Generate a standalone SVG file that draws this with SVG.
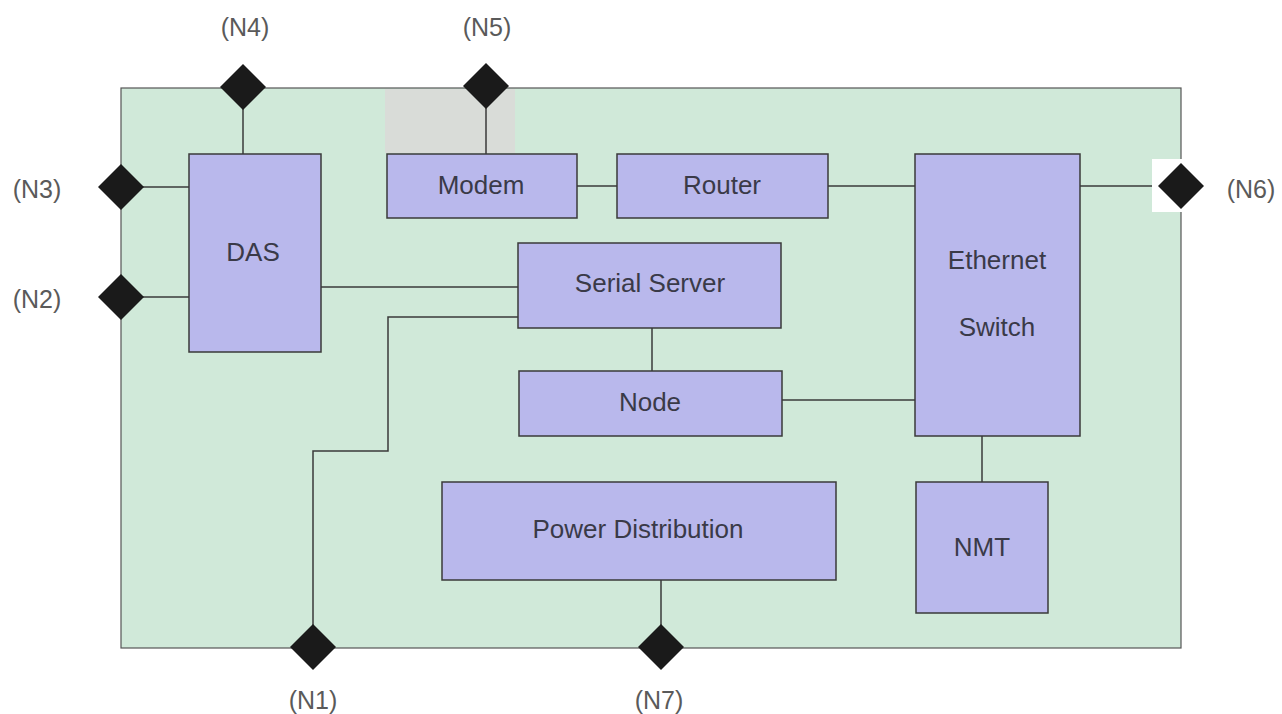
<svg xmlns="http://www.w3.org/2000/svg" width="1282" height="714" viewBox="0 0 1282 714">
<style>
.box{fill:#b9b8ec;stroke:#3a3a3a;stroke-width:1.5}
.t{font-family:"Liberation Sans",Arial,sans-serif;font-size:26px;fill:#3a3a48;text-anchor:middle}
.lbl{font-family:"Liberation Sans",Arial,sans-serif;font-size:25px;fill:#5a5a5a;text-anchor:middle}
.dia{fill:#1a1a1a}
#connectors path,#connectors line{stroke:#3a3a3a;stroke-width:1.5;fill:none}
</style>
<rect width="1282" height="714" fill="#ffffff"/>
<g id="panel">
<rect x="121" y="88" width="1060" height="560" fill="#d0e9d9" stroke="#555" stroke-width="1.2"/>
<rect x="385" y="89" width="130" height="64" fill="#d9dcd8"/>
</g>
<g id="connectors">
<line x1="243" y1="87" x2="243" y2="154"/>
<line x1="486" y1="86" x2="486" y2="154"/>
<line x1="121" y1="187" x2="189" y2="187"/>
<line x1="121" y1="297" x2="189" y2="297"/>
<line x1="577" y1="186" x2="617" y2="186"/>
<line x1="828" y1="186" x2="915" y2="186"/>
<line x1="1080" y1="186" x2="1181" y2="186"/>
<line x1="321" y1="287" x2="518" y2="287"/>
<path d="M313 647 V451 H388 V317 H518"/>
<line x1="652" y1="328" x2="652" y2="371"/>
<line x1="782" y1="400" x2="915" y2="400"/>
<line x1="982" y1="436" x2="982" y2="482"/>
<line x1="661" y1="580" x2="661" y2="647"/>
</g>
<g id="DAS"><rect class="box" x="189" y="154" width="132" height="198"/><text class="t" x="253" y="261">DAS</text></g>
<g id="Modem"><rect class="box" x="387" y="154" width="190" height="64"/><text class="t" x="481" y="194">Modem</text></g>
<g id="Router"><rect class="box" x="617" y="154" width="211" height="64"/><text class="t" x="722" y="194">Router</text></g>
<g id="EthernetSwitch"><rect class="box" x="915" y="154" width="165" height="282"/><text class="t" x="997" y="269">Ethernet</text><text class="t" x="997" y="336">Switch</text></g>
<g id="SerialServer"><rect class="box" x="518" y="243" width="263" height="85"/><text class="t" x="650" y="292">Serial Server</text></g>
<g id="Node"><rect class="box" x="519" y="371" width="263" height="65"/><text class="t" x="650" y="411">Node</text></g>
<g id="PowerDistribution"><rect class="box" x="442" y="482" width="394" height="98"/><text class="t" x="638" y="538">Power Distribution</text></g>
<g id="NMT"><rect class="box" x="916" y="482" width="132" height="131"/><text class="t" x="982" y="556">NMT</text></g>
<g id="N4"><path class="dia" d="M243 64 L266 87 L243 110 L220 87Z"/><text class="lbl" x="245" y="36">(N4)</text></g>
<g id="N5"><path class="dia" d="M486 63 L509 86 L486 109 L463 86Z"/><text class="lbl" x="487" y="36">(N5)</text></g>
<g id="N3"><path class="dia" d="M121 164 L144 187 L121 210 L98 187Z"/><text class="lbl" x="37" y="198">(N3)</text></g>
<g id="N2"><path class="dia" d="M121 274 L144 297 L121 320 L98 297Z"/><text class="lbl" x="37" y="308">(N2)</text></g>
<g id="N6"><rect x="1152" y="159" width="52" height="53" fill="#ffffff"/><path class="dia" d="M1181 163 L1204 186 L1181 209 L1158 186Z" fill="#000"/><text class="lbl" x="1251" y="198">(N6)</text></g>
<g id="N1"><path class="dia" d="M313 624 L336 647 L313 670 L290 647Z"/><text class="lbl" x="313" y="709">(N1)</text></g>
<g id="N7"><path class="dia" d="M661 624 L684 647 L661 670 L638 647Z"/><text class="lbl" x="659" y="709">(N7)</text></g>
</svg>
